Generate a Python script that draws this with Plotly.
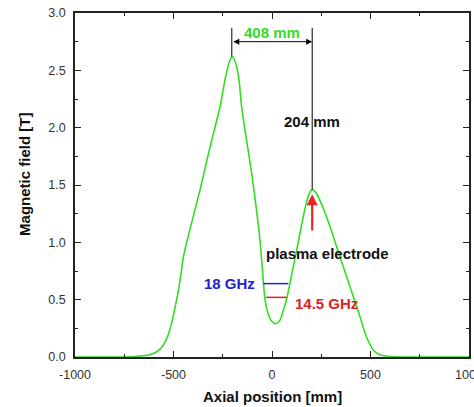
import plotly.graph_objects as go

# Curve (axial position mm, field T)
pos_mm = [-1000, -800, -700, -620, -580, -553, -530, -509, -490, -475, -460, -450,
          -430, -408, -365, -330, -306, -264, -235, -215, -204, -190, -170, -154,
          -130, -103, -80, -61, -44, -36, -20, 0, 20, 40, 60, 75, 100, 125, 150,
          175, 190, 204, 220, 250, 294, 340, 379, 410, 430, 447, 470, 497, 520,
          548, 600, 700, 1000]
field_T = [0, 0, 0.005, 0.02, 0.05, 0.10, 0.18, 0.30, 0.45, 0.58, 0.75, 0.87,
           1.02, 1.17, 1.46, 1.72, 1.89, 2.18, 2.45, 2.58, 2.62, 2.59, 2.45, 2.18,
           1.90, 1.60, 1.30, 1.02, 0.66, 0.51, 0.38, 0.31, 0.29, 0.32, 0.42, 0.51,
           0.72, 0.93, 1.15, 1.35, 1.43, 1.46, 1.44, 1.34, 1.14, 0.90, 0.70, 0.54,
           0.44, 0.35, 0.22, 0.11, 0.05, 0.02, 0.005, 0, 0]

x_tickvals = [-1000, -500, 0, 500, 1000]
x_ticktext = ["-1000", "-500", "0", "500", "1000"]
y_tickvals = [0.0, 0.5, 1.0, 1.5, 2.0, 2.5, 3.0]

# Annotation anchors
peak1_x, peak1_y = -204, 2.62
peak2_x, peak2_y = 204, 1.46
dim_y = 2.75
line_top = 2.87
b18 = [(-44, 0.64), (83, 0.64)]
b145 = [(-30, 0.52), (75, 0.52)]

GREEN = "#33dd22"
FONT = "Liberation Sans, Arial, sans-serif"

fig = go.Figure()
fig.add_trace(go.Scatter(x=pos_mm, y=field_T, mode="lines",
                         line=dict(color=GREEN, width=1.6, shape="spline", smoothing=0.6),
                         showlegend=False, hoverinfo="skip"))
fig.add_trace(go.Scatter(x=[p[0] for p in b18], y=[p[1] for p in b18], mode="lines",
                         line=dict(color="#2222cc", width=1.5), showlegend=False))
fig.add_trace(go.Scatter(x=[p[0] for p in b145], y=[p[1] for p in b145], mode="lines",
                         line=dict(color="#dd2222", width=1.5), showlegend=False))

shapes = [
    dict(type="line", xref="x", yref="y", x0=peak1_x, x1=peak1_x, y0=peak1_y, y1=line_top,
         line=dict(color="black", width=1)),
    dict(type="line", xref="x", yref="y", x0=peak2_x, x1=peak2_x, y0=peak2_y, y1=line_top,
         line=dict(color="black", width=1)),
]

bold = lambda size, color: dict(family=FONT, size=size, color=color, weight="bold")

annotations = [
    # double-headed dimension arrow
    dict(x=peak2_x, y=dim_y, ax=peak1_x, ay=dim_y, xref="x", yref="y", axref="x", ayref="y",
         text="", showarrow=True, arrowhead=2, startarrowhead=2, arrowside="end+start",
         arrowsize=1.2, arrowwidth=1, arrowcolor="black"),
    dict(x=0, y=2.83, xref="x", yref="y", text="408 mm", showarrow=False,
         font=bold(15, GREEN)),
    dict(x=peak2_x, y=2.05, xref="x", yref="y", text="204 mm", showarrow=False,
         font=bold(15, "#111111")),
    # red arrow to plasma electrode
    dict(x=peak2_x, y=1.42, ax=peak2_x, ay=1.09, xref="x", yref="y", axref="x", ayref="y",
         text="", showarrow=True, arrowhead=2, arrowsize=1, arrowwidth=2.2, arrowcolor="#ee2222"),
    dict(x=282, y=0.90, xref="x", yref="y", text="plasma electrode", showarrow=False,
         font=bold(15, "#111111")),
    dict(x=-218, y=0.645, xref="x", yref="y", text="18 GHz", showarrow=False,
         font=bold(15, "#2222cc")),
    dict(x=278, y=0.47, xref="x", yref="y", text="14.5 GHz", showarrow=False,
         font=bold(15, "#dd2222")),
    # axis titles
    dict(x=-0.127, y=0.532, xref="paper", yref="paper", xanchor="center", yanchor="middle",
         text="Magnetic field [T]", textangle=-90,
         showarrow=False, font=bold(15, "#111111")),
    dict(x=0.5, y=-0.114, xref="paper", yref="paper", xanchor="center", yanchor="middle",
         text="Axial position [mm]", showarrow=False, font=bold(15, "#111111")),
]

axis_common = dict(showgrid=False, zeroline=False, showline=True, linecolor="#222222",
                   linewidth=1.5, ticks="inside", ticklen=6, tickwidth=1, tickcolor="#222222",
                   mirror="allticks", ticklabeloverflow="allow", automargin=False,
                   tickfont=dict(family=FONT, size=12.5, color="#333333"))

fig.update_layout(
    width=474, height=407,
    margin=dict(l=75, r=5, t=13, b=50, autoexpand=False),
    paper_bgcolor="white", plot_bgcolor="white",
    shapes=shapes, annotations=annotations,
    xaxis=dict(range=[-1000, 1000], tickvals=x_tickvals, ticktext=x_ticktext,
               minor=dict(ticks="inside", ticklen=3, dtick=250, tick0=0, tickcolor="#222222"),
               ticklabelstandoff=5, **axis_common),
    yaxis=dict(range=[0, 3.0], tickvals=y_tickvals, tickformat=".1f",
               minor=dict(ticks="inside", ticklen=3, dtick=0.25, tick0=0, tickcolor="#222222"),
               ticklabelstandoff=5, **axis_common),
)

fig.write_html("out.html")
